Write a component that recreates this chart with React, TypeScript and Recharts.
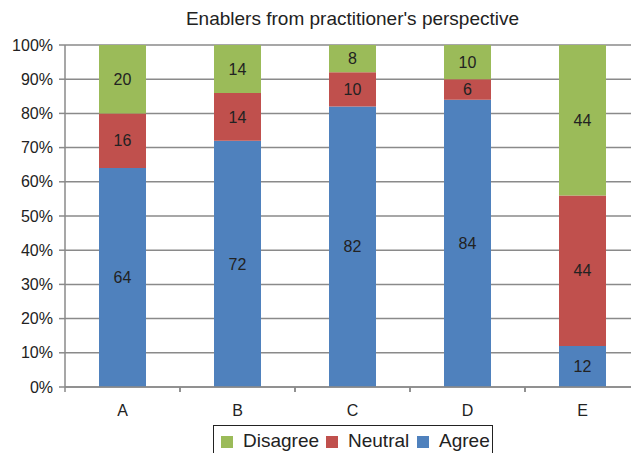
import { BarChart, Bar, XAxis, YAxis, CartesianGrid, LabelList } from "recharts";

const categories = ["A", "B", "C", "D", "E"];
const agree = [64, 72, 82, 84, 12];
const neutral = [16, 14, 10, 6, 44];
const disagree = [20, 14, 8, 10, 44];
const yTicks = [0, 10, 20, 30, 40, 50, 60, 70, 80, 90, 100];

const rows = categories.map((name, i) => ({
  name,
  agree: agree[i],
  neutral: neutral[i],
  disagree: disagree[i],
}));

const GREEN = "#9BBB59";
const RED = "#C0504D";
const BLUE = "#4F81BD";
const GRID = "#8a8a8a";
const FONT = "'Liberation Sans', Arial, sans-serif";

// category ticks sit on the band edges, label in the middle
const CatTick = (props: any) => {
  const { x, y, payload } = props;
  const half = 57.5;
  return (
    <g>
      <line x1={x - half} x2={x - half} y1={y} y2={y + 5} stroke={GRID} strokeWidth={1.5} />
      <line x1={x + half} x2={x + half} y1={y} y2={y + 5} stroke={GRID} strokeWidth={1.5} />
      <text x={x} y={y + 29} textAnchor="middle" fontSize={16} fill="#222" fontFamily={FONT}>
        {payload.value}
      </text>
    </g>
  );
};

const legendItems = [
  { label: "Disagree", color: GREEN, left: 7 },
  { label: "Neutral", color: RED, left: 112 },
  { label: "Agree", color: BLUE, left: 203 },
];

export default function App() {
  return (
    <div
      style={{
        position: "absolute",
        left: 0,
        top: 0,
        width: 631,
        height: 453,
        overflow: "hidden",
        background: "#fff",
        fontFamily: FONT,
      }}
    >
      <div
        style={{
          position: "absolute",
          left: 65,
          width: 575,
          top: 8,
          textAlign: "center",
          fontSize: 19,
          color: "#222",
        }}
      >
        Enablers from practitioner's perspective
      </div>

      <BarChart
        width={640}
        height={470}
        data={rows}
        margin={{ top: 45, right: 0, left: 0, bottom: 53 }}
        barSize={47}
      >
        <CartesianGrid vertical={false} stroke={GRID} strokeWidth={1.5} />
        <XAxis
          dataKey="name"
          height={30}
          tickSize={0}
          tickMargin={0}
          axisLine={{ stroke: GRID, strokeWidth: 1.5 }}
          tickLine={false}
          tick={<CatTick />}
          interval={0}
        />
        <YAxis
          width={65}
          domain={[0, 100]}
          ticks={yTicks}
          tickFormatter={(v: number) => `${v}%`}
          tickSize={6}
          tickMargin={6}
          axisLine={{ stroke: GRID, strokeWidth: 1.5 }}
          tickLine={{ stroke: GRID, strokeWidth: 1.5 }}
          tick={{ fill: "#222", fontSize: 16, fontFamily: FONT }}
        />
        <Bar dataKey="agree" stackId="s" fill={BLUE} isAnimationActive={false}>
          <LabelList dataKey="agree" position="center" fill="#222" fontSize={16} fontFamily={FONT} />
        </Bar>
        <Bar dataKey="neutral" stackId="s" fill={RED} isAnimationActive={false}>
          <LabelList dataKey="neutral" position="center" fill="#222" fontSize={16} fontFamily={FONT} />
        </Bar>
        <Bar dataKey="disagree" stackId="s" fill={GREEN} isAnimationActive={false}>
          <LabelList dataKey="disagree" position="center" fill="#222" fontSize={16} fontFamily={FONT} />
        </Bar>
      </BarChart>

      <div
        style={{
          position: "absolute",
          left: 213,
          top: 425,
          width: 280,
          height: 34,
          border: "1px solid #222",
          boxSizing: "border-box",
          fontSize: 19,
          color: "#222",
        }}
      >
        {legendItems.map((it) => (
          <div key={it.label}>
            <span
              style={{
                position: "absolute",
                left: it.left,
                top: 10,
                width: 12,
                height: 12,
                background: it.color,
              }}
            />
            <span style={{ position: "absolute", left: it.left + 22, top: 4, lineHeight: "22px" }}>
              {it.label}
            </span>
          </div>
        ))}
      </div>
    </div>
  );
}
